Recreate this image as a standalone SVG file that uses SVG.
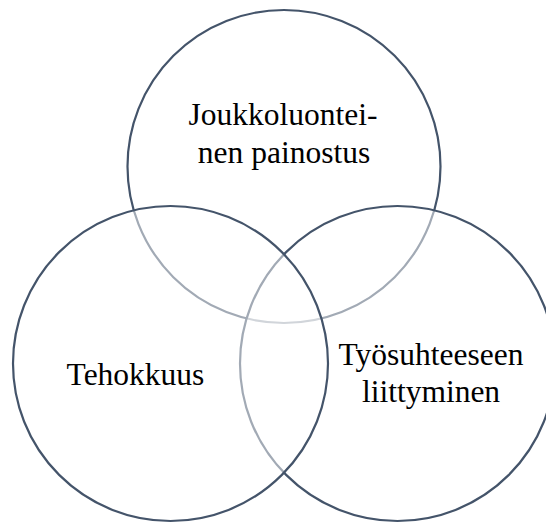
<svg xmlns="http://www.w3.org/2000/svg" width="546" height="523" viewBox="0 0 546 523">
<style>
.c{fill:#ffffff;fill-opacity:0.5;stroke:#44546A;stroke-width:2.2}
.t{font-family:"Liberation Serif","Times New Roman",serif;font-size:31.5px;fill:#000;text-anchor:middle}
</style>
<rect width="546" height="523" fill="#ffffff"/>
<g id="top">
<circle class="c" cx="284" cy="166.5" r="156.5"/>
<text class="t" x="283" y="125">Joukkoluontei-</text>
<text class="t" x="284" y="163">nen painostus</text>
</g>
<g id="right">
<circle class="c" cx="397.5" cy="363.5" r="157.5"/>
<text class="t" x="431" y="365">Työsuhteeseen</text>
<text class="t" x="431" y="402">liittyminen</text>
</g>
<g id="left">
<circle class="c" cx="170.5" cy="363.5" r="157.5"/>
<text class="t" x="135.5" y="385">Tehokkuus</text>
</g>
<g id="connectors"/>
</svg>
